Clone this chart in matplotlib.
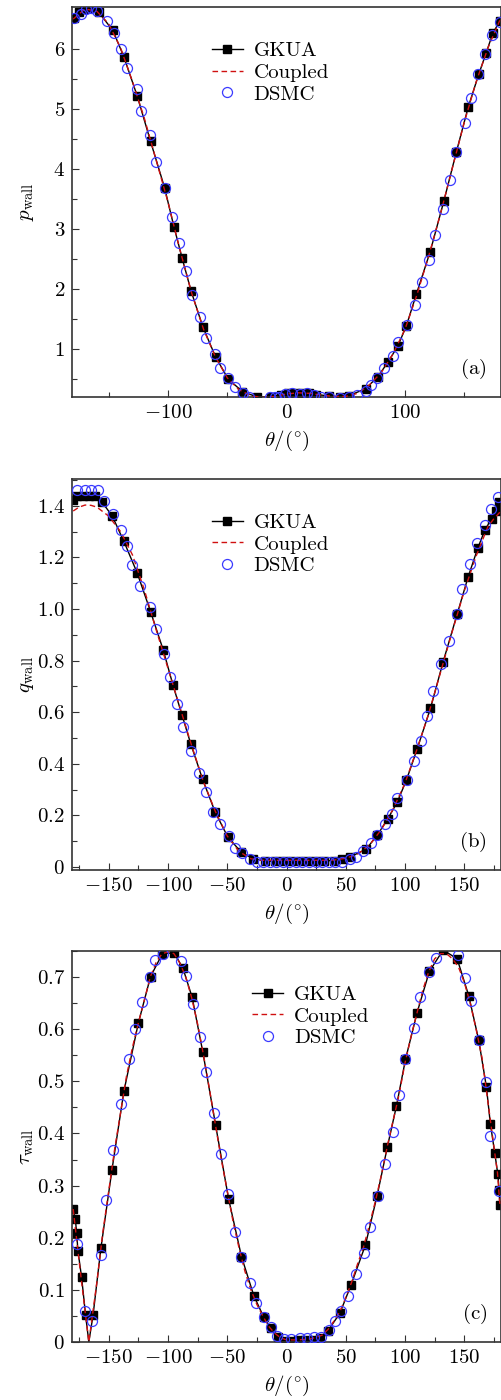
import matplotlib
matplotlib.use("Agg")
import matplotlib.pyplot as plt
from matplotlib.ticker import MultipleLocator, FuncFormatter

plt.rcParams['mathtext.fontset'] = 'cm'
plt.rcParams['font.family'] = ['cmr10', 'DejaVu Serif']
plt.rcParams['axes.unicode_minus'] = False

# ---------------- Panel (a): pressure ----------------
theta_a_gkua = [-179.5, -175.5, -171, -166, -158.3, -146.5, -137.2, -126.0, -114.7, -102.9,
                -95.0, -88.0, -80.4, -70.6, -59.9, -49.2, -37.2, -24.7, -13.5, -5,
                1, 7, 13, 19, 25, 35.5, 45.5, 52.6, 66.8, 77.2,
                85.5, 94.0, 101.2, 109.5, 121.2, 132.7, 143.4, 153.3, 162.2, 168.4,
                174.0, 180.0]
p_gkua = [6.52, 6.62, 6.67, 6.68, 6.61, 6.31, 5.87, 5.22, 4.46, 3.69,
          3.04, 2.51, 1.96, 1.37, 0.87, 0.50, 0.29, 0.20, 0.20, 0.24,
          0.26, 0.27, 0.27, 0.26, 0.24, 0.22, 0.20, 0.22, 0.34, 0.54,
          0.78, 1.05, 1.39, 1.91, 2.62, 3.46, 4.29, 5.03, 5.58, 5.93,
          6.26, 6.47]

theta_a_coupled = [-180, -170, -160, -150, -140, -130, -120, -110, -100, -90,
                   -80, -70, -60, -50, -40, -30, -20, -10, 0, 10,
                   20, 30, 40, 50, 60, 70, 80, 90, 100, 110,
                   120, 130, 140, 150, 160, 170, 180]
p_coupled = [6.50, 6.67, 6.63, 6.42, 6.02, 5.46, 4.85, 4.15, 3.45, 2.66,
             1.93, 1.33, 0.87, 0.52, 0.32, 0.22, 0.19, 0.21, 0.25, 0.27,
             0.26, 0.23, 0.21, 0.21, 0.26, 0.40, 0.61, 0.92, 1.33, 1.90,
             2.55, 3.26, 4.02, 4.78, 5.45, 6.02, 6.48]

theta_a_dsmc = [-179, -173.8, -169.6, -164.8, -160.3, -151.3, -145.7, -140, -134.4, -126.5,
                -122.6, -115.6, -109.7, -102.9, -96.8, -90.8, -84.9, -79.6, -72.8, -68,
                -60.6, -56.3, -49.6, -43.8, -36.5, -31.4, -14.2, -10, -6.5, -1,
                4.8, 11.8, 16.9, 23, 28.7, 35.7, 45.5, 52.6, 59.6, 67.2,
                70.9, 76.5, 82.1, 90, 94, 101.5, 108.8, 114.4, 120, 125.4,
                132, 138.3, 143.4, 150.3, 155.8, 161.8, 167.9, 173.1, 179.8]
p_dsmc = [6.51, 6.59, 6.67, 6.68, 6.63, 6.47, 6.27, 6.0, 5.69, 5.34,
          4.97, 4.57, 4.12, 3.69, 3.2, 2.76, 2.3, 1.9, 1.53, 1.19,
          0.91, 0.69, 0.51, 0.37, 0.27, 0.2, 0.195, 0.2, 0.2, 0.25,
          0.26, 0.25, 0.27, 0.23, 0.2, 0.195, 0.19, 0.195, 0.23, 0.3,
          0.4, 0.51, 0.68, 0.88, 1.12, 1.4, 1.74, 2.11, 2.48, 2.9,
          3.34, 3.82, 4.29, 4.76, 5.18, 5.58, 5.92, 6.23, 6.45]

# ---------------- Panel (b): heat flux ----------------
theta_b_gkua = [-180, -176.6, -172, -167, -162, -155.7, -147, -137.2, -126, -114.7,
                -104, -95.9, -88.3, -80.7, -70.8, -60.2, -49.6, -38.1, -28, -18,
                -10, -3, 4, 11, 18, 25, 32, 40, 47, 54,
                67.2, 76.5, 85.5, 93.4, 101.2, 110.2, 121.5, 132.2, 144, 153.3,
                161.4, 167.5, 173, 176.5, 179.6]
q_gkua = [1.424, 1.437, 1.44, 1.44, 1.44, 1.415, 1.36, 1.262, 1.14, 0.99,
          0.841, 0.707, 0.591, 0.476, 0.34, 0.213, 0.117, 0.057, 0.032, 0.024,
          0.022, 0.022, 0.023, 0.023, 0.023, 0.024, 0.024, 0.025, 0.03, 0.04,
          0.069, 0.123, 0.187, 0.251, 0.337, 0.457, 0.615, 0.796, 0.98, 1.125,
          1.236, 1.307, 1.35, 1.38, 1.415]

theta_b_coupled = [-180, -175, -170, -165, -160, -150, -140, -130, -120, -110,
                   -100, -90, -80, -70, -60, -50, -40, -30, -20, -10,
                   0, 10, 20, 30, 40, 50, 60, 70, 80, 90,
                   100, 110, 120, 130, 140, 150, 160, 170, 175, 180]
q_coupled = [1.38, 1.395, 1.403, 1.402, 1.395, 1.36, 1.30, 1.21, 1.075, 0.92,
             0.77, 0.62, 0.47, 0.33, 0.215, 0.12, 0.06, 0.032, 0.026, 0.026,
             0.026, 0.026, 0.026, 0.026, 0.027, 0.034, 0.05, 0.085, 0.145, 0.225,
             0.325, 0.455, 0.595, 0.755, 0.915, 1.07, 1.205, 1.32, 1.35, 1.375]

theta_b_dsmc = [-176.6, -170.4, -164.8, -159.2, -154.1, -146.5, -140, -135, -130.2, -123.2,
                -115.6, -109.7, -103.5, -98.4, -92.2, -87.4, -80.4, -74, -68.3, -61.8,
                -56.2, -48.7, -43.6, -37.4, -30.4, -25, -19.5, -14, -8.5, -3,
                2.5, 8, 13.5, 19, 24.5, 30, 35.5, 41, 46.5, 54,
                59, 64.7, 70.9, 76.5, 83.5, 89.1, 93.6, 101.5, 107.2, 113.3,
                118.9, 123.7, 130.7, 137.1, 143.7, 148.2, 155.2, 160.9, 167.3, 172.4,
                178.3]
q_dsmc = [1.46, 1.46, 1.46, 1.46, 1.418, 1.37, 1.305, 1.245, 1.172, 1.091,
          1.008, 0.924, 0.826, 0.735, 0.63, 0.543, 0.45, 0.363, 0.292, 0.213,
          0.165, 0.119, 0.074, 0.053, 0.033, 0.02, 0.018, 0.018, 0.019, 0.02,
          0.02, 0.021, 0.021, 0.02, 0.02, 0.019, 0.019, 0.018, 0.02, 0.032,
          0.04, 0.062, 0.095, 0.123, 0.167, 0.206, 0.269, 0.339, 0.41, 0.488,
          0.587, 0.681, 0.787, 0.877, 0.981, 1.076, 1.173, 1.255, 1.324, 1.389,
          1.435]

# ---------------- Panel (c): shear stress ----------------
theta_c_gkua = [-180, -178.2, -177.1, -176, -172.9, -169.5, -166.8, -163.2, -156.6, -147.3,
                -137.2, -125.1, -114.7, -104.9, -95, -87.4, -79.6, -70.6, -59.9, -48.9,
                -38, -27.6, -19.1, -13.5, -7.5, -1.5, 4, 10, 16, 22,
                28, 35.1, 45, 54.4, 66.6, 76.5, 85.2, 92.8, 100.4, 110.2,
                120.6, 132.2, 144, 153.8, 162.2, 168.7, 172, 175.7, 178.3, 179.4,
                180]
tau_gkua = [0.255, 0.236, 0.21, 0.175, 0.124, 0.051, 0.0, 0.052, 0.18, 0.33,
            0.481, 0.611, 0.701, 0.744, 0.747, 0.717, 0.661, 0.556, 0.417, 0.275,
            0.164, 0.089, 0.047, 0.027, 0.01, 0.002, 0.002, 0.003, 0.003, 0.004,
            0.008, 0.022, 0.055, 0.109, 0.186, 0.281, 0.375, 0.453, 0.542, 0.632,
            0.711, 0.752, 0.735, 0.664, 0.579, 0.489, 0.419, 0.363, 0.322, 0.292,
            0.263]
tau_gkua_hidden_marker = [6]  # the zero-crossing point carries no symbol

theta_c_coupled = [-180, -175, -170, -166.8, -165, -160, -155, -150, -145, -140,
                   -135, -130, -125, -120, -115, -110, -105, -100, -95, -90,
                   -85, -80, -75, -70, -65, -60, -55, -50, -45, -40,
                   -35, -30, -25, -20, -15, -10, -5, 0, 10, 20,
                   25, 30, 35, 40, 45, 50, 55, 60, 65, 70,
                   75, 80, 85, 90, 95, 100, 105, 110, 115, 120,
                   125, 130, 135, 140, 145, 150, 155, 160, 165, 170,
                   175, 178, 180]
tau_coupled = [0.255, 0.155, 0.06, 0.0, 0.03, 0.115, 0.21, 0.29, 0.37, 0.44,
               0.51, 0.565, 0.612, 0.655, 0.70, 0.728, 0.745, 0.748, 0.745, 0.727,
               0.70, 0.66, 0.61, 0.55, 0.485, 0.417, 0.35, 0.29, 0.23, 0.18,
               0.135, 0.1, 0.072, 0.05, 0.03, 0.017, 0.008, 0.004, 0.004, 0.006,
               0.009, 0.013, 0.024, 0.04, 0.058, 0.085, 0.115, 0.15, 0.182, 0.225,
               0.27, 0.32, 0.375, 0.425, 0.475, 0.535, 0.585, 0.63, 0.675, 0.71,
               0.735, 0.745, 0.745, 0.735, 0.72, 0.69, 0.65, 0.6, 0.545, 0.46,
               0.375, 0.325, 0.265]

theta_c_dsmc = [-176.6, -170.4, -164, -156.9, -152.7, -146.2, -140, -133, -128.2, -121.7,
                -115.3, -111.3, -104.2, -89.4, -84.9, -79, -73.1, -68.3, -61.3, -55.4,
                -49.2, -43.5, -38, -30.7, -25.5, -19.1, -13.5, -7.9, -2.3, 3.9,
                11, 16.9, 23, 29.3, 35.7, 41.3, 46.1, 52, 58.9, 65.2,
                70.6, 77.1, 83.5, 89.8, 95, 100.4, 107.4, 112.8, 120.3, 126.5,
                144.5, 150.3, 155.5, 162.2, 168.7, 172, 179.1]
tau_dsmc = [0.188, 0.06, 0.04, 0.166, 0.273, 0.368, 0.456, 0.542, 0.6, 0.653,
            0.701, 0.733, 0.745, 0.73, 0.703, 0.648, 0.585, 0.517, 0.44, 0.36,
            0.284, 0.211, 0.164, 0.113, 0.075, 0.047, 0.028, 0.012, 0.006, 0.005,
            0.008, 0.008, 0.009, 0.01, 0.023, 0.04, 0.06, 0.089, 0.13, 0.171,
            0.22, 0.281, 0.342, 0.403, 0.474, 0.542, 0.602, 0.661, 0.709, 0.737,
            0.743, 0.698, 0.654, 0.58, 0.498, 0.396, 0.289]

series_labels = ['GKUA', 'Coupled', 'DSMC']
panel_tags = ['(a)', '(b)', '(c)']
y_labels = [r'$p_{\rm wall}$', r'$q_{\rm wall}$', r'$\tau_{\rm wall}$']
x_label = r'$\theta/(^{\circ})$'

FS = 15
W, H = 502, 1400
fig = plt.figure(figsize=(W / 100, H / 100), dpi=100)

def px_axes(left, top, right, bottom):
    return fig.add_axes([left / W, 1 - bottom / H, (right - left) / W, (bottom - top) / H])

def make_fmt(decimals):
    def f(v, pos):
        if abs(v) < 1e-9:
            s = '0'
        elif decimals == 0:
            s = '%d' % round(v)
        else:
            s = '%.*f' % (decimals, v)
        return r'$\mathdefault{%s}$' % s
    return FuncFormatter(f)

panels = [
    dict(box=(72, 6.5, 501, 397), ylim=(0.2, 6.71), xmaj=100, xmin=50, ymaj=1, ymin=0.5,
         g=(theta_a_gkua, p_gkua), c=(theta_a_coupled, p_coupled), d=(theta_a_dsmc, p_dsmc),
         leg=(0.326, 0.91), hide=[], ydec=0),
    dict(box=(72, 479, 501, 870), ylim=(-0.0115, 1.504), xmaj=50, xmin=25, ymaj=0.2, ymin=0.1,
         g=(theta_b_gkua, q_gkua), c=(theta_b_coupled, q_coupled), d=(theta_b_dsmc, q_dsmc),
         leg=(0.326, 0.912), hide=[], ydec=1),
    dict(box=(72, 951, 501, 1342), ylim=(0.0, 0.75), xmaj=50, xmin=25, ymaj=0.1, ymin=0.05,
         g=(theta_c_gkua, tau_gkua), c=(theta_c_coupled, tau_coupled), d=(theta_c_dsmc, tau_dsmc),
         leg=(0.42, 0.912), hide=tau_gkua_hidden_marker, ydec=1),
]

spine_col = '#333333'
for i, P in enumerate(panels):
    ax = px_axes(*P['box'])
    gx, gy = P['g']
    cx, cy = P['c']
    dx, dy = P['d']
    mk = [k for k in range(len(gx)) if k not in P['hide']]
    ax.plot(gx, gy, '-', color='black', lw=1.0, marker='s', ms=5.6,
            mfc='black', mec='black', markevery=mk, label=series_labels[0], zorder=2)
    ax.plot(cx, cy, '--', color='#d01010', lw=1.0, dashes=(4, 2.5),
            label=series_labels[1], zorder=3)
    ax.plot(dx, dy, 'o', ms=7.2, mfc='none', mec='#3a3aff', mew=0.9,
            label=series_labels[2], zorder=4)
    ax.set_xlim(-181, 181)
    ax.set_ylim(*P['ylim'])
    ax.xaxis.set_major_locator(MultipleLocator(P['xmaj']))
    ax.xaxis.set_minor_locator(MultipleLocator(P['xmin']))
    ax.yaxis.set_major_locator(MultipleLocator(P['ymaj']))
    ax.yaxis.set_minor_locator(MultipleLocator(P['ymin']))
    ax.xaxis.set_major_formatter(make_fmt(0))
    ax.yaxis.set_major_formatter(make_fmt(P['ydec']))
    ax.tick_params(which='both', direction='in', top=False, right=False,
                   color=spine_col, labelsize=FS, width=0.8)
    ax.tick_params(which='major', length=5, pad=5)
    ax.tick_params(which='minor', length=3.5)
    for s in ax.spines.values():
        s.set_color(spine_col)
        s.set_linewidth(1.2)
    ax.set_ylabel(y_labels[i], fontsize=FS)
    ax.yaxis.set_label_coords(-0.085, 0.5)
    ax.set_xlabel(x_label, fontsize=FS, va='center')
    ax.xaxis.set_label_coords(0.5, -0.112)
    ax.text(0.967, 0.04, r'$\mathrm{%s}$' % panel_tags[i], transform=ax.transAxes,
            ha='right', va='bottom', fontsize=FS)
    ax.legend(loc='upper left', bbox_to_anchor=P['leg'], frameon=False,
              fontsize=FS, numpoints=1, handlelength=1.5, handletextpad=0.5,
              labelspacing=0.15, borderpad=0, borderaxespad=0)

fig.savefig('out.png', dpi=100)
